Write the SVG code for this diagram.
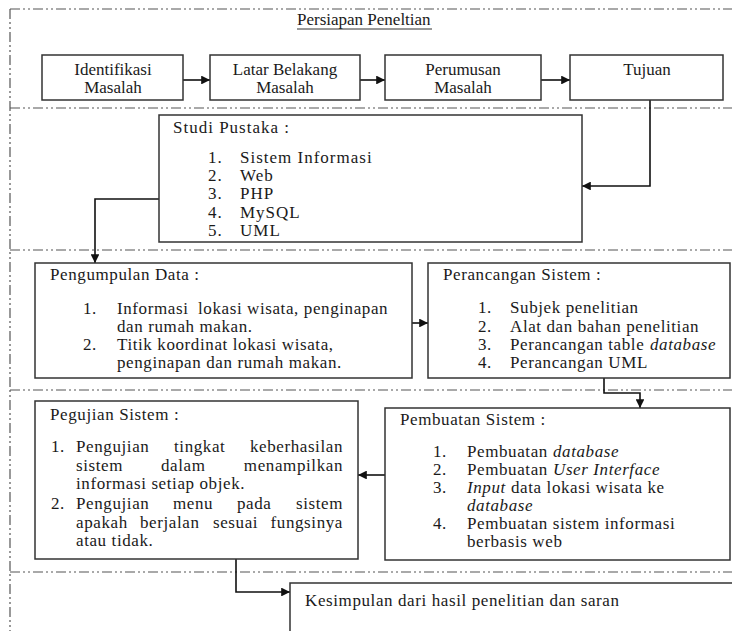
<svg xmlns="http://www.w3.org/2000/svg" width="732" height="631" viewBox="0 0 732 631">
  <style>
    .sec { fill: none; stroke: #555; stroke-width: 1.2; stroke-dasharray: 10 3 2 3 2 3; }
    .box { fill: #fff; stroke: #333; stroke-width: 1.5; }
    .con { fill: none; stroke: #111; stroke-width: 1.6; }
    text { font-family: 'Liberation Serif', 'Times New Roman', Times, serif; font-size: 17px; fill: #1a1a1a; }
    .c { text-anchor: middle; }
    .sp { letter-spacing: 0.6px; }
    .wide { letter-spacing: 1px; }
    .it { font-style: italic; }
    .r { text-anchor: end; }
  </style>
  <defs>
    <marker id="ah" viewBox="0 0 10 10" refX="10" refY="5" markerWidth="5.5" markerHeight="5.5" orient="auto" markerUnits="strokeWidth">
      <path d="M0,0 L10,5 L0,10 z" fill="#111"/>
    </marker>
  </defs>

  <!-- section frame lines -->
  <g id="sections">
    <path class="sec" d="M10,9 H732"/>
    <path class="sec" d="M10,9 V631"/>
    <path class="sec" d="M10,108 H732"/>
    <path class="sec" d="M10,250 H732"/>
    <path class="sec" d="M10,390 H732"/>
    <path class="sec" d="M10,572 H732"/>
  </g>

  <g id="title">
    <text x="297" y="25">Persiapan Peneltian</text>
    <path d="M297,29 H432" stroke="#333" stroke-width="1"/>
  </g>

  <!-- connectors -->
  <g id="connectors">
    <path class="con" d="M183,80 H210" marker-end="url(#ah)"/>
    <path class="con" d="M360,80 H385" marker-end="url(#ah)"/>
    <path class="con" d="M541,80 H570" marker-end="url(#ah)"/>
    <path class="con" d="M650,100 V186 H582" marker-end="url(#ah)"/>
    <path class="con" d="M159,199 H95 V263" marker-end="url(#ah)"/>
    <path class="con" d="M412,323 H428" marker-end="url(#ah)"/>
    <path class="con" d="M604,378 V393 H640 V408" marker-end="url(#ah)"/>
    <path class="con" d="M385,475 H358" marker-end="url(#ah)"/>
    <path class="con" d="M236,559 V592 H290" marker-end="url(#ah)"/>
  </g>

  <g id="identifikasi">
    <rect class="box" x="42" y="55" width="141" height="45"/>
    <text class="c" x="113" y="75">Identifikasi</text>
    <text class="c" x="113" y="93">Masalah</text>
  </g>
  <g id="latar-belakang">
    <rect class="box" x="210" y="55" width="150" height="45"/>
    <text class="c" x="285" y="75">Latar Belakang</text>
    <text class="c" x="285" y="93">Masalah</text>
  </g>
  <g id="perumusan">
    <rect class="box" x="385" y="55" width="156" height="45"/>
    <text class="c" x="463" y="75">Perumusan</text>
    <text class="c" x="463" y="93">Masalah</text>
  </g>
  <g id="tujuan">
    <rect class="box" x="570" y="55" width="153" height="45"/>
    <text class="c" x="647" y="75">Tujuan</text>
  </g>

  <g id="studi-pustaka" class="wide">
    <rect class="box" x="159" y="115" width="423" height="127"/>
    <text x="173" y="133">Studi Pustaka :</text>
    <text x="208" y="163">1.</text><text x="240" y="163">Sistem Informasi</text>
    <text x="208" y="181">2.</text><text x="240" y="181">Web</text>
    <text x="208" y="199">3.</text><text x="240" y="199">PHP</text>
    <text x="208" y="218">4.</text><text x="240" y="218">MySQL</text>
    <text x="208" y="236">5.</text><text x="240" y="236">UML</text>
  </g>

  <g id="pengumpulan-data" class="sp">
    <rect class="box" x="35" y="263" width="377" height="115"/>
    <text x="50" y="280">Pengumpulan Data :</text>
    <text x="83" y="314">1.</text><text x="117" y="314">Informasi</text><text x="198" y="314">lokasi wisata, penginapan</text>
    <text x="117" y="332">dan rumah makan.</text>
    <text x="83" y="350">2.</text><text x="117" y="350">Titik koordinat lokasi wisata,</text>
    <text x="117" y="368">penginapan dan rumah makan.</text>
  </g>

  <g id="perancangan-sistem" class="sp">
    <rect class="box" x="428" y="263" width="302" height="115"/>
    <text x="443" y="280">Perancangan Sistem :</text>
    <text x="478" y="313">1.</text><text x="510" y="313">Subjek penelitian</text>
    <text x="478" y="332">2.</text><text x="510" y="332">Alat dan bahan penelitian</text>
    <text x="478" y="350">3.</text><text x="510" y="350">Perancangan table</text><text class="it" x="650" y="350">database</text>
    <text x="478" y="368">4.</text><text x="510" y="368">Perancangan UML</text>
  </g>

  <g id="pegujian-sistem" class="sp">
    <rect class="box" x="35" y="401" width="323" height="158"/>
    <text x="50" y="420">Pegujian Sistem :</text>
    <text x="51" y="452">1.</text>
    <text x="76" y="452">Pengujian</text><text x="174" y="452">tingkat</text><text class="r" x="343" y="452">keberhasilan</text>
    <text x="76" y="471">sistem</text><text x="161" y="471">dalam</text><text class="r" x="343" y="471">menampilkan</text>
    <text x="76" y="489">informasi setiap objek.</text>
    <text x="51" y="509">2.</text>
    <text x="76" y="509">Pengujian</text><text x="173" y="509">menu</text><text x="237" y="509">pada</text><text class="r" x="343" y="509">sistem</text>
    <text x="76" y="528">apakah</text><text x="140" y="528">berjalan</text><text x="213" y="528">sesuai</text><text class="r" x="343" y="528">fungsinya</text>
    <text x="76" y="546">atau tidak.</text>
  </g>

  <g id="pembuatan-sistem" class="sp">
    <rect class="box" x="385" y="408" width="345" height="152"/>
    <text x="400" y="425">Pembuatan Sistem :</text>
    <text x="433" y="457">1.</text><text x="467" y="457">Pembuatan</text><text class="it" x="553" y="457">database</text>
    <text x="433" y="475">2.</text><text x="467" y="475">Pembuatan</text><text class="it" x="553" y="475">User Interface</text>
    <text x="433" y="493">3.</text><text class="it" x="467" y="493">Input</text><text x="511" y="493">data lokasi wisata ke</text>
    <text class="it" x="467" y="511">database</text>
    <text x="433" y="529">4.</text><text x="467" y="529">Pembuatan sistem informasi</text>
    <text x="467" y="547">berbasis web</text>
  </g>

  <g id="kesimpulan">
    <rect class="box" x="290" y="583" width="450" height="60"/>
    <text x="305" y="606" class="sp">Kesimpulan dari hasil penelitian dan saran</text>
  </g>
</svg>
